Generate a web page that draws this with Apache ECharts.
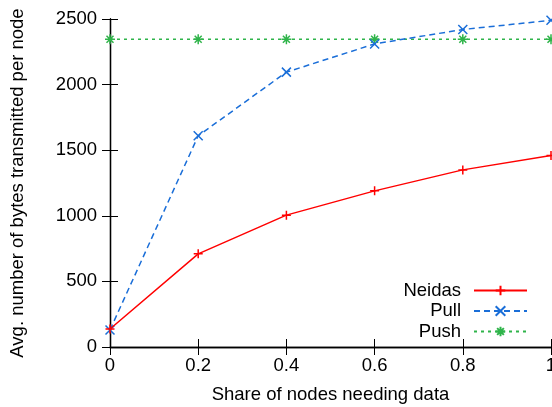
<!DOCTYPE html>
<html><head><meta charset="utf-8">
<script src="https://cdn.jsdelivr.net/npm/echarts@6/dist/echarts.min.js"></script>
<style>html,body{margin:0;padding:0;background:#fff}#c{width:552px;height:407px}</style>
</head><body><div id="c"></div>
<script>
const xValues = [0, 0.2, 0.4, 0.6, 0.8, 1.0];
const neidas = [137, 710, 1005, 1190, 1350, 1460];
const pull = [130, 1610, 2095, 2310, 2420, 2490];
const push = [2345, 2345, 2345, 2345, 2345, 2345];
const xTicks = [0, 0.2, 0.4, 0.6, 0.8, 1];
const yTicks = [0, 500, 1000, 1500, 2000, 2500];
const xTitle = 'Share of nodes needing data';
const yTitle = 'Avg. number of bytes transmitted per node';

const FONT = 'Liberation Sans';
const FS = 18.5;
const RED = '#ff0000', BLUE = '#1a6ed8', GREEN = '#2fb44a';
const PLUS = 'path://M0,5L10,5M5,0L5,10';
const CROSS = 'path://M0,0L10,10M10,0L0,10';
const STAR = 'path://M0,5L10,5M5,0L5,10M1.5,1.5L8.5,8.5M8.5,1.5L1.5,8.5';

function pairs(ys){ return xValues.map((x,i)=>[x, ys[i]]); }
const axLine = {show:true, lineStyle:{color:'#000', width:1.3}};
const tick = {show:true, inside:true, length:8, lineStyle:{color:'#000', width:1}};

const chart = echarts.init(document.getElementById('c'), null, {renderer:'canvas'});
chart.setOption({
  animation:false,
  grid:{left:110, top:19, right:1, bottom:60, containLabel:false, outerBoundsMode:'none'},
  xAxis:[{
    type:'value', min:xTicks[0], max:xTicks[xTicks.length-1], interval:0.2,
    axisLine:axLine, axisTick:tick, splitLine:{show:false},
    axisLabel:{color:'#000', fontFamily:FONT, fontSize:FS, margin:9,
      formatter:v=>String(+v.toFixed(1))},
    name:xTitle, nameLocation:'middle', nameGap:38,
    nameTextStyle:{color:'#000', fontFamily:FONT, fontSize:FS}
  },{
    type:'value', position:'top', min:0, max:1, interval:0.2,
    axisLine:axLine, axisTick:tick, axisLabel:{show:false}, splitLine:{show:false}
  }],
  yAxis:[{
    type:'value', min:yTicks[0], max:yTicks[yTicks.length-1], interval:500,
    axisLine:axLine, axisTick:tick, splitLine:{show:false},
    axisLabel:{color:'#000', fontFamily:FONT, fontSize:FS, margin:13, formatter:v=>String(v)},
    name:yTitle, nameLocation:'middle', nameGap:83,
    nameTextStyle:{color:'#000', fontFamily:FONT, fontSize:FS}
  },{
    type:'value', position:'right', min:0, max:2500, interval:500,
    axisLine:axLine, axisTick:tick, axisLabel:{show:false}, splitLine:{show:false}
  }],
  legend:{
    orient:'vertical', align:'right', right:24, bottom:66, padding:0,
    itemWidth:53, itemHeight:12, itemGap:1.5,
    textStyle:{color:'#000', fontFamily:FONT, fontSize:FS, lineHeight:18, width:70, align:'right', padding:[0,8,0,0]},
    data:['Neidas','Pull','Push']
  },
  series:[
    {name:'Neidas', type:'line', data:pairs(neidas), symbol:PLUS, symbolSize:9,
     lineStyle:{color:RED, width:1.5, type:'solid'},
     itemStyle:{color:RED, borderColor:RED, borderWidth:1.5}, z:3},
    {name:'Pull', type:'line', data:pairs(pull), symbol:CROSS, symbolSize:9,
     lineStyle:{color:BLUE, width:1.5, type:[6,4]},
     itemStyle:{color:BLUE, borderColor:BLUE, borderWidth:1.5}, z:2},
    {name:'Push', type:'line', data:pairs(push), symbol:STAR, symbolSize:10,
     lineStyle:{color:GREEN, width:1.5, type:[3,4]},
     itemStyle:{color:GREEN, borderColor:GREEN, borderWidth:1.5}, z:1}
  ]
});
</script></body></html>
